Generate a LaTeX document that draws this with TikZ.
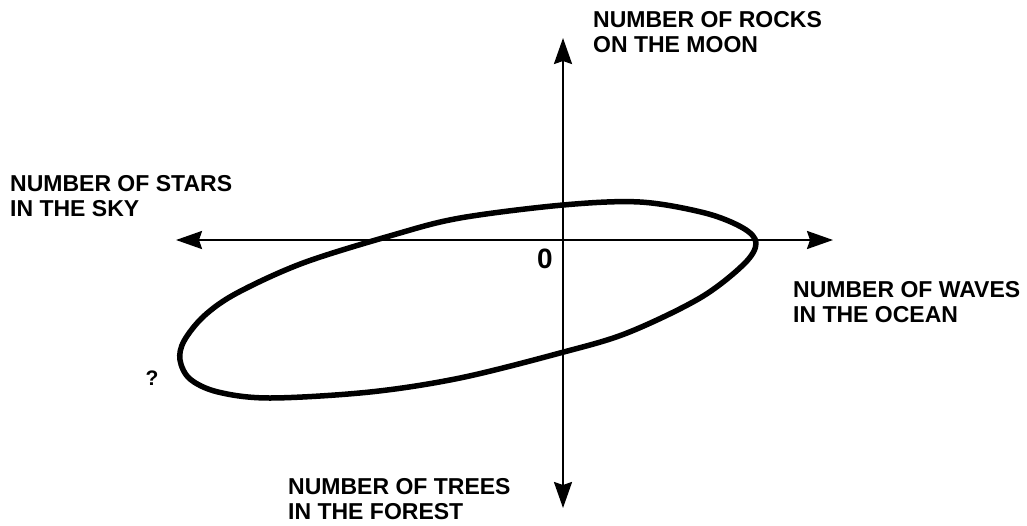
\documentclass[tikz,border=0pt]{standalone}
\usepackage{fontspec}
\setmainfont{Liberation Sans}
\usetikzlibrary{arrows.meta}
\begin{document}
\begin{tikzpicture}[x=1pt,y=-1pt,
  axis/.style={line width=2.4pt,{Stealth[length=26pt,width=18pt,inset=3pt]}-{Stealth[length=26pt,width=18pt,inset=3pt]}},
  lbl/.style={font=\fontsize{23}{25}\selectfont\bfseries, align=left, anchor=north west, inner sep=0pt},
  loop/.style={line width=5.5pt, line join=round}]
\useasboundingbox (0,0) rectangle (1027,525);
\fill[white] (0,0) rectangle (1027,525);
\coordinate (W) at (176,240);
\coordinate (E) at (833,240);
\coordinate (N) at (563,38);
\coordinate (S) at (563,508);
\draw[axis] (W) -- (E);
\draw[axis] (N) -- (S);
\draw[loop] plot[smooth cycle, tension=0.55] coordinates {
 (640,202) (705,213) (743,228) (756,243) (744,264) (700,298) (627,333) (560,353)
 (460,378) (370,392) (270,398) (218,392) (190,379) (180,360) (184,341) (204,316)
 (237,293) (303,263) (393,235) (460,218) (563,205)};
\node[lbl] (rocks) at (593,11) {NUMBER OF ROCKS\\ON THE MOON};
\node[lbl] (stars) at (10,175) {NUMBER OF STARS\\IN THE SKY};
\node[lbl] (waves) at (793,281) {NUMBER OF WAVES\\IN THE OCEAN};
\node[lbl] (trees) at (288,478) {NUMBER OF TREES\\IN THE FOREST};
\node[font=\fontsize{28}{30}\selectfont\bfseries, inner sep=0pt] (zero) at (545,259) {0};
\node[font=\fontsize{21}{23}\selectfont\bfseries, inner sep=0pt] (q) at (152,378) {?};
\end{tikzpicture}
\end{document}
